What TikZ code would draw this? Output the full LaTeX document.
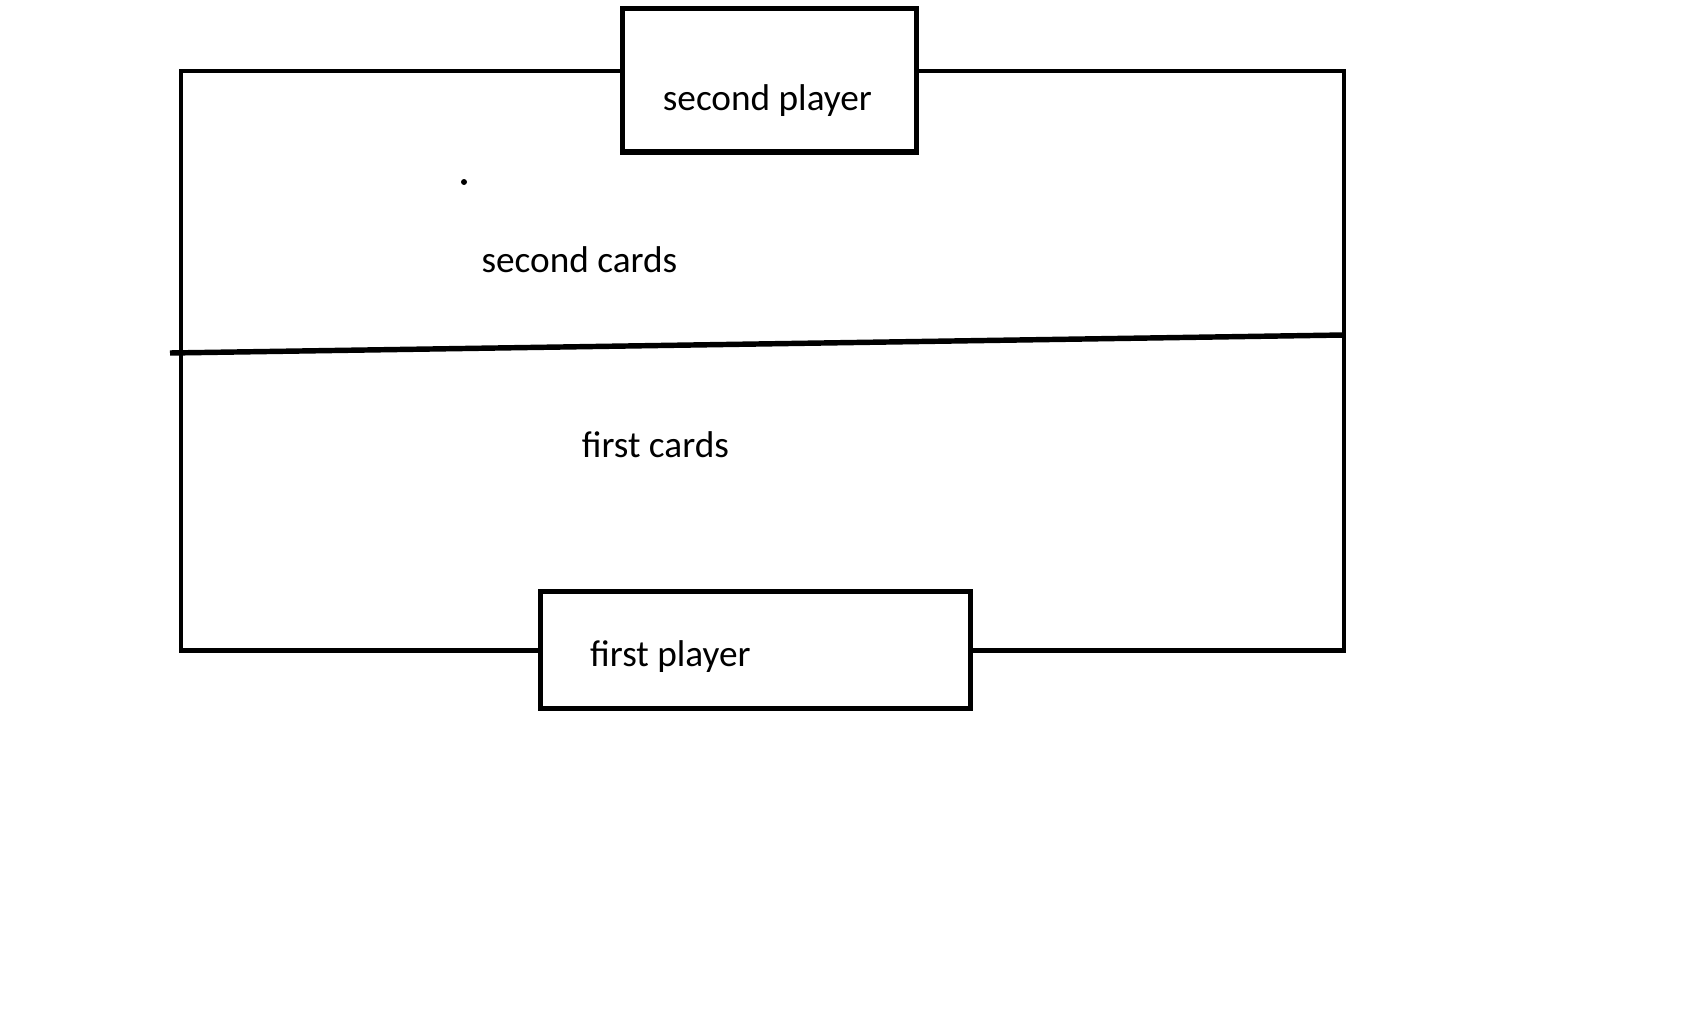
\documentclass[tikz,border=0pt]{standalone}
\usepackage{fontspec}
\setmainfont{Carlito}
\begin{document}
\begin{tikzpicture}[x=0.01cm,y=-0.01cm,line width=1.35pt,
  box/.style={draw, fill=white, line width=1.45pt, inner sep=0pt},
  lbl/.style={anchor=base, inner sep=0pt, font=\fontsize{10.6}{12}\selectfont}]
\useasboundingbox (0,0) rectangle (1688,1012);
% outer frame
\coordinate (tl) at (181,71);
\coordinate (br) at (1344,650.5);
\draw (tl) rectangle (br);
% divider line
\coordinate (dl) at (170,353);
\coordinate (dr) at (1344,335);
\draw[line width=1.55pt] (dl) -- (dr);
% player boxes
\node[box, minimum width=2.94cm, minimum height=1.434cm] (p2) at (769.5,80.3) {};
\node[box, minimum width=4.297cm, minimum height=1.174cm] (p1) at (755.5,650) {};
% texts
\node[lbl] (t2) at (767.4,110) {second player};
\node[lbl] (c2) at (579.4,272) {second cards};
\node[lbl] (c1) at (655.4,457) {first cards};
\node[lbl] (t1) at (670.4,666) {first player};
% stray dot
\fill (464,182) circle (3);
\end{tikzpicture}
\end{document}
